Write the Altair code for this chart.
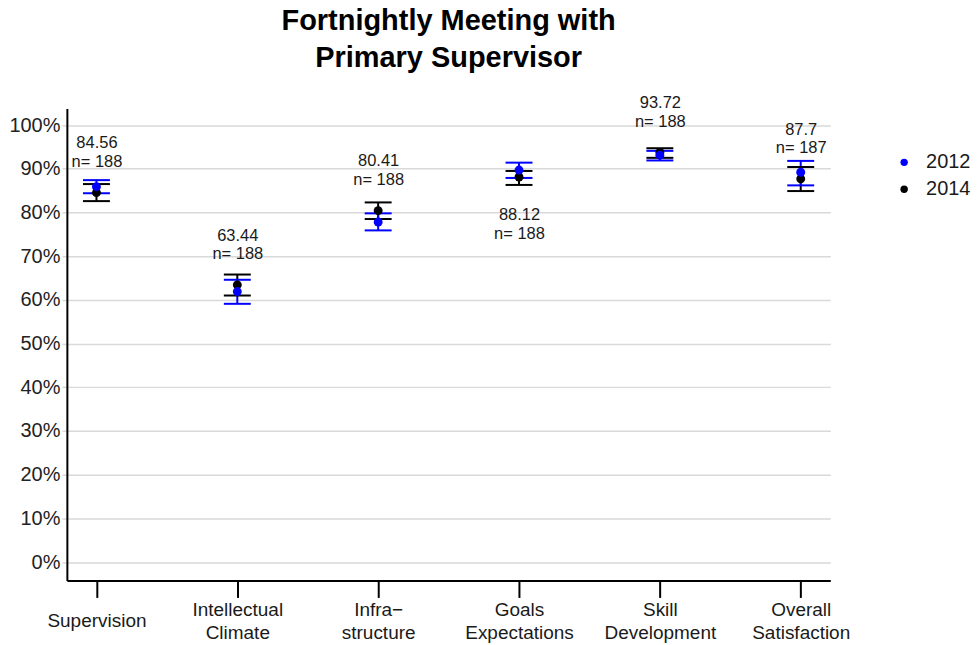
import altair as alt
import pandas as pd

# ---- data ----
categories = ["Supervision", "Intellectual\nClimate", "Infra\u2212\nstructure",
              "Goals\nExpectations", "Skill\nDevelopment", "Overall\nSatisfaction"]
years = ["2012", "2014"]

mean_2012 = [85.9, 61.9, 77.8, 89.7, 93.1, 89.2]
low_2012 = [84.4, 59.1, 75.9, 87.9, 91.9, 86.2]
high_2012 = [87.4, 64.6, 79.8, 91.4, 94.1, 91.8]

mean_2014 = [84.56, 63.44, 80.41, 88.12, 93.72, 87.7]
low_2014 = [82.6, 61.0, 78.5, 86.3, 92.5, 84.9]
high_2014 = [86.5, 65.8, 82.3, 89.5, 94.7, 90.4]

n_2014 = [188, 188, 188, 188, 188, 187]
label_y = [94.56, 73.44, 90.41, 78.12, 103.72, 97.7]

y_ticks = [0, 10, 20, 30, 40, 50, 60, 70, 80, 90, 100]
colors = ["#0000FF", "#000000"]

FONT = "Liberation Sans"
NB = "\u00a0"

rows = []
for yr, m, lo, hi, z in [("2012", mean_2012, low_2012, high_2012, 1),
                         ("2014", mean_2014, low_2014, high_2014, 0)]:
    for c, a, b, d in zip(categories, m, lo, hi):
        rows.append({"category": c, "year": yr, "mean": a, "low": b, "high": d, "z": z})
df = pd.DataFrame(rows)

lab = pd.DataFrame({
    "category": categories,
    "ly": label_y,
    "label": [f"{v}{NB}\n{NB}n= {n}" for v, n in zip(mean_2014, n_2014)],
})

xenc = alt.X("category:N", sort=categories,
             scale=alt.Scale(type="point", padding=0.21),
             axis=alt.Axis(title=None, labelAngle=0,
                           labelExpr="split(datum.label, '\\n')",
                           labelFont=FONT, labelFontSize=19, labelColor="#1a1a1a",
                           labelLineHeight=23, labelBaseline="top",
                           labelPadding={"condition": {"test": "datum.value == 'Supervision'",
                                                       "value": 14.5},
                                         "value": 3},
                           tickSize=17, tickWidth=2, tickColor="#000000",
                           domainColor="#000000", domainWidth=2, grid=False))
yscale = alt.Scale(domain=[-4.2, 103.8], nice=False, zero=False)
yaxis = alt.Axis(title=None, values=y_ticks, labelExpr="datum.value + '%'",
                 labelFont=FONT, labelFontSize=20, labelColor="#222222",
                 labelPadding=2, tickSize=5, tickColor="#D9D9D9", tickWidth=1.5,
                 domainColor="#000000", domainWidth=2,
                 grid=True, gridColor="#D9D9D9", gridWidth=1.5)
cenc = alt.Color("year:N", scale=alt.Scale(domain=years, range=colors),
                 legend=alt.Legend(title=None, orient="none", legendX=829, legendY=44,
                                   labelFont=FONT, labelFontSize=20, labelColor="#1a1a1a",
                                   symbolType="circle", symbolSize=55, symbolStrokeWidth=0,
                                   labelOffset=12, rowPadding=7, padding=0))

base = alt.Chart(df)

rules = base.mark_rule(strokeWidth=2).encode(
    x=xenc, y=alt.Y("low:Q", scale=yscale, axis=yaxis), y2="high:Q",
    color=cenc, order=alt.Order("z:Q"))

caps_lo = base.mark_tick(thickness=2, size=27, opacity=1).encode(
    x=xenc, y=alt.Y("low:Q", scale=yscale), color=cenc, order=alt.Order("z:Q"))
caps_hi = base.mark_tick(thickness=2, size=27, opacity=1).encode(
    x=xenc, y=alt.Y("high:Q", scale=yscale), color=cenc, order=alt.Order("z:Q"))

points = base.mark_circle(size=80, opacity=1).encode(
    x=xenc, y=alt.Y("mean:Q", scale=yscale), color=cenc, order=alt.Order("z:Q"))

texts = alt.Chart(lab).mark_text(font=FONT, fontSize=16.5, color="#1a1a1a",
                                 align="center", baseline="middle", dy=-5.5, dx=0.5,
                                 lineBreak="\n", lineHeight=18.5).encode(
    x=xenc, y=alt.Y("ly:Q", scale=yscale), text="label:N")

chart = alt.layer(rules, caps_lo, caps_hi, points, texts).properties(
    width=765, height=473,
    title=alt.Title(["Fortnightly Meeting with" + NB, NB + "Primary Supervisor"],
                    font=FONT, fontSize=29, fontWeight="bold", color="#000000",
                    lineHeight=37, anchor="middle", frame="group", offset=22),
    autosize=alt.AutoSizeParams(type="none"),
    padding={"left": 59, "top": 100, "right": 141, "bottom": 64},
).configure_view(stroke=None)

chart.save("out.html", embed_options={"renderer": "svg", "actions": False})
